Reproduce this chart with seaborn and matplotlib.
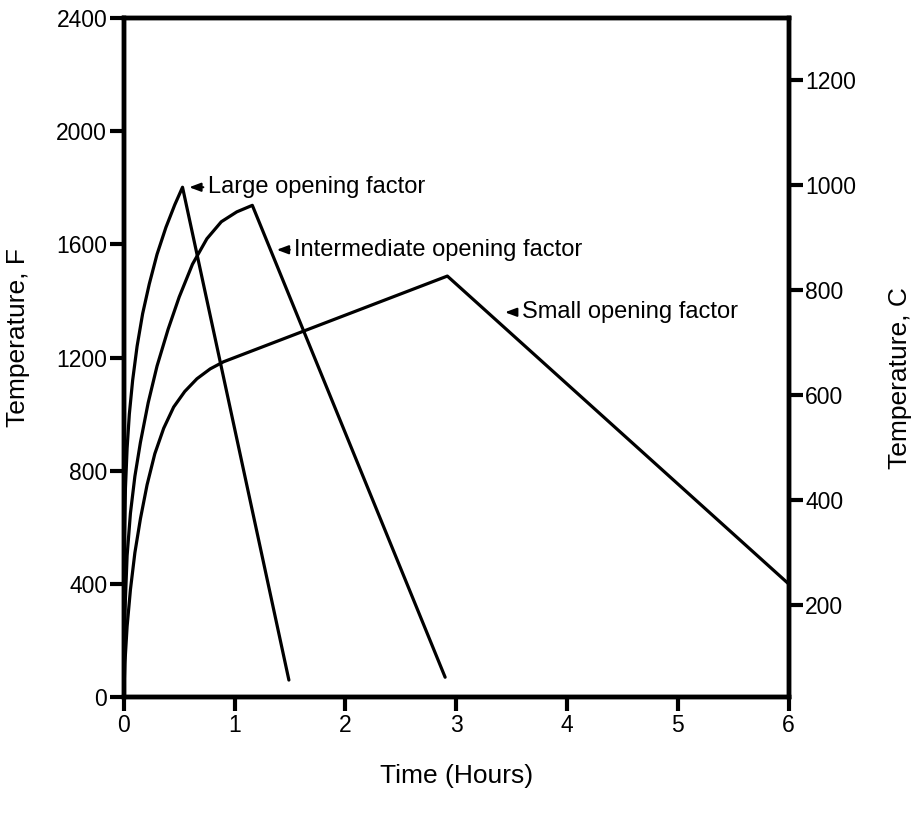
#!/usr/bin/env python3
"""Fire temperature-time curves for three opening factors (F and C scales)."""

import numpy as np
import pandas as pd
import matplotlib
matplotlib.use("Agg")
import matplotlib.pyplot as plt
import seaborn as sns

# time (h) / temperature (F)
large_t = [0, 0.005, 0.015, 0.03, 0.05, 0.08, 0.12, 0.17, 0.23, 0.30, 0.38, 0.46, 0.53, 1.49]
large_f = [0, 560, 740, 880, 1000, 1120, 1240, 1355, 1460, 1565, 1660, 1740, 1802, 60]

inter_t = [0, 0.01, 0.03, 0.06, 0.10, 0.15, 0.22, 0.30, 0.40, 0.50, 0.62, 0.75, 0.88, 1.02, 1.16, 2.90]
inter_f = [0, 300, 500, 650, 780, 900, 1040, 1170, 1300, 1414, 1530, 1620, 1680, 1715, 1738, 70]

small_t = [0, 0.01, 0.03, 0.06, 0.10, 0.15, 0.21, 0.28, 0.36, 0.45, 0.55, 0.66, 0.78, 0.90, 2.92, 6.0]
small_f = [0, 120, 250, 380, 510, 630, 750, 860, 950, 1025, 1080, 1125, 1160, 1185, 1488, 400]

x_ticks = [0, 1, 2, 3, 4, 5, 6]
f_ticks = [0, 400, 800, 1200, 1600, 2000, 2400]
c_ticks = [200, 400, 600, 800, 1000, 1200]

labels = ["Large opening factor", "Intermediate opening factor", "Small opening factor"]
# arrow tip (t, F) and text start (t) for each label
label_tip = [(0.59, 1802), (1.38, 1581), (3.44, 1360)]
label_text_x = [0.76, 1.54, 3.59]


def main():
    sns.set_style("ticks")
    plt.rcParams["font.family"] = ["Liberation Sans", "DejaVu Sans"]
    for k in ["text.color", "axes.labelcolor", "xtick.color", "ytick.color", "axes.edgecolor"]:
        plt.rcParams[k] = "black"

    df = pd.concat([
        pd.DataFrame({"t": large_t, "F": large_f, "case": "large"}),
        pd.DataFrame({"t": inter_t, "F": inter_f, "case": "inter"}),
        pd.DataFrame({"t": small_t, "F": small_f, "case": "small"}),
    ], ignore_index=True)

    fig = plt.figure(figsize=(9.17, 8.21), dpi=100)
    ax = fig.add_axes([0.135, 0.151, 0.725, 0.827])
    sns.lineplot(data=df, x="t", y="F", hue="case", units="case", estimator=None,
                 sort=False, palette=["black"] * 3, lw=2.3, legend=False, ax=ax)

    ax.set_xlim(0, 6); ax.set_ylim(0, 2400)
    ax.set_xticks(x_ticks); ax.set_yticks(f_ticks)
    ax.tick_params(axis="both", direction="out", length=10, width=3,
                   labelsize=16.5, pad=2)
    for s in ax.spines.values():
        s.set_linewidth(3.2)
    ax.set_xlabel("Time (Hours)", fontsize=19)
    ax.set_ylabel("Temperature, F", fontsize=19)
    ax.xaxis.set_label_coords(0.5, -0.098)
    ax.yaxis.set_label_coords(-0.141, 0.53)

    ax2 = ax.twinx()
    ax2.set_ylim(25, 1318)
    ax2.set_yticks(c_ticks)
    ax2.tick_params(axis="y", direction="out", length=10, width=3,
                    labelsize=16.5, pad=2)
    for s in ax2.spines.values():
        s.set_linewidth(3.2)
    ax2.set_ylabel("Temperature, C", fontsize=19, rotation=90)
    ax2.yaxis.set_label_coords(1.149, 0.47)

    for lab, (tx, ty), x0 in zip(labels, label_tip, label_text_x):
        ax.annotate(lab, xy=(tx, ty), xytext=(x0, ty), fontsize=17,
                    ha="left", va="center",
                    arrowprops=dict(arrowstyle="-|>,head_length=0.4,head_width=0.15",
                                    color="black", lw=1.5, shrinkA=1, shrinkB=0))

    fig.savefig("out.png", dpi=100)
    plt.close()


if __name__ == "__main__":
    main()
